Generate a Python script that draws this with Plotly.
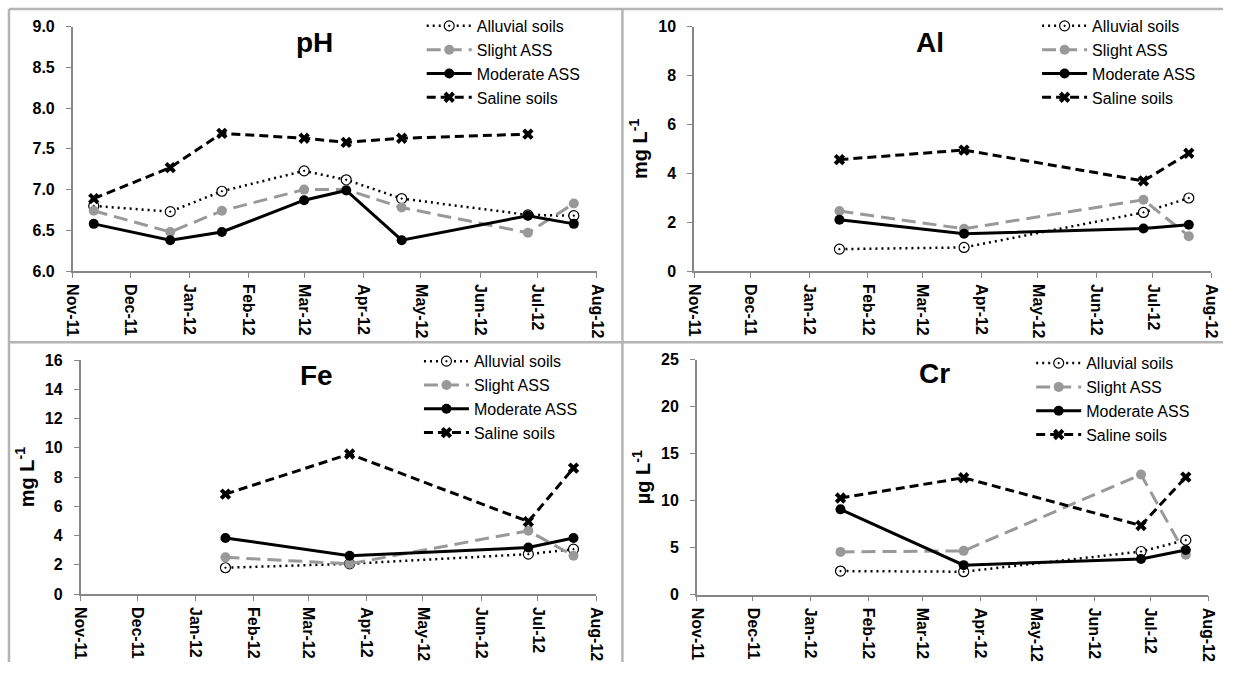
import plotly.graph_objects as go

# ---------------- data ----------------
series_names = ["Alluvial soils", "Slight ASS", "Moderate ASS", "Saline soils"]

ph_dates = ["2011-11-12", "2011-12-22", "2012-01-18", "2012-03-01",
            "2012-03-23", "2012-04-21", "2012-06-26", "2012-07-20"]
ph_alluvial = [6.80, 6.73, 6.98, 7.23, 7.12, 6.89, 6.69, 6.68]
ph_slight = [6.74, 6.48, 6.74, 7.00, 7.00, 6.78, 6.47, 6.83]
ph_moderate = [6.58, 6.38, 6.48, 6.87, 6.99, 6.38, 6.68, 6.58]
ph_saline = [6.89, 7.27, 7.69, 7.63, 7.58, 7.63, 7.68, None]

metal_dates = ["2012-01-17", "2012-03-23", "2012-06-26", "2012-07-20"]
al_alluvial = [0.90, 0.97, 2.40, 2.99]
al_slight = [2.46, 1.73, 2.92, 1.43]
al_moderate = [2.10, 1.53, 1.74, 1.90]
al_saline = [4.56, 4.95, 3.69, 4.82]

fe_alluvial = [1.80, 2.07, 2.73, 3.07]
fe_slight = [2.51, 2.07, 4.33, 2.62]
fe_moderate = [3.84, 2.62, 3.18, 3.84]
fe_saline = [6.84, 9.58, 4.96, 8.62]

cr_alluvial = [2.52, 2.45, 4.60, 5.81]
cr_slight = [4.56, 4.67, 12.79, 4.25]
cr_moderate = [9.09, 3.15, 3.80, 4.77]
cr_saline = [10.30, 12.45, 7.37, 12.52]

panel_titles = ["pH", "Al", "Fe", "Cr"]
y_titles = ["", "mg L<sup>-1</sup>", "mg L<sup>-1</sup>", "µg L<sup>-1</sup>"]

# ---------------- layout geometry ----------------
# the page keeps the browser's 8px body margin; figure + margins == 1248x687
OFF = 8
FW, FH = 1248 - 2 * OFF, 687 - 2 * OFF


def px_x(x):
    return min(max((x - OFF) / FW, 0.0), 1.0)


def px_y(y):
    return min(max(1 - (y - OFF) / FH, 0.0), 1.0)


FONT = "Liberation Sans, Arial, sans-serif"
styles = [
    dict(line=dict(color="black", width=2.5, dash="2px,4px"),
         marker=dict(symbol="circle-dot", size=10, color="white",
                     line=dict(color="black", width=1.2))),
    dict(line=dict(color="#999999", width=3, dash="14px,7px"),
         marker=dict(symbol="circle", size=10, color="#999999")),
    dict(line=dict(color="black", width=3),
         marker=dict(symbol="circle", size=10, color="black")),
    dict(line=dict(color="black", width=3, dash="9px,5px"),
         marker=dict(symbol="x", size=10, color="black")),
]

panels = [
    dict(dates=ph_dates, vals=[ph_alluvial, ph_slight, ph_moderate, ph_saline],
         yrange=[6, 9], dtick=0.5, fmt=".1f",
         px=(73.6, 605), py=(27, 278), title_xy=(318.5, 43), leg_xy=(427.5, 9)),
    dict(dates=metal_dates, vals=[al_alluvial, al_slight, al_moderate, al_saline],
         yrange=[0, 10], dtick=2, fmt="d",
         px=(703.6, 1228.3), py=(27, 278), title_xy=(942.5, 43), leg_xy=(1051.5, 9)),
    dict(dates=metal_dates, vals=[fe_alluvial, fe_slight, fe_moderate, fe_saline],
         yrange=[0, 16], dtick=2, fmt="d",
         px=(81.6, 604.3), py=(369.3, 609.3), title_xy=(320.5, 385), leg_xy=(424.7, 353)),
    dict(dates=metal_dates, vals=[cr_alluvial, cr_slight, cr_moderate, cr_saline],
         yrange=[0, 25], dtick=5, fmt="d",
         px=(706.4, 1225), py=(369, 610), title_xy=(947, 383), leg_xy=(1045.5, 355)),
]

fig = go.Figure()
layout = {}
annotations = []

tickfont = dict(family=FONT, size=16, color="black", weight="bold")

for i, p in enumerate(panels):
    n = i + 1
    suffix = "" if n == 1 else str(n)
    legname = "legend" if n == 1 else f"legend{n}"
    for k, name in enumerate(series_names):
        st = styles[k]
        fig.add_trace(go.Scatter(
            x=p["dates"], y=p["vals"][k], name=name, mode="lines+markers",
            line=st["line"], marker=st["marker"],
            xaxis="x" + suffix, yaxis="y" + suffix, legend=legname,
            connectgaps=False))
    layout["xaxis" + suffix] = dict(
        domain=[px_x(p["px"][0]), px_x(p["px"][1])],
        anchor="y" + suffix, type="date",
        range=["2011-11-01", "2012-08-01"], dtick="M1", tick0="2011-11-01",
        tickformat="%b-%y", tickangle=90,
        tickprefix="<b>", ticksuffix="</b>",
        ticks="outside", ticklen=5, tickcolor="#868686", tickwidth=1,
        ticklabelstandoff=3,
        showline=True, linecolor="#868686", linewidth=1.5,
        showgrid=False, zeroline=False,
        tickfont=tickfont,
    )
    layout["yaxis" + suffix] = dict(
        domain=[px_y(p["py"][1]), px_y(p["py"][0])],
        anchor="x" + suffix, range=p["yrange"], dtick=p["dtick"],
        tickformat=p["fmt"],
        tickprefix="<b>", ticksuffix="</b>",
        ticks="outside", ticklen=5, tickcolor="#868686", tickwidth=1,
        ticklabelstandoff=8,
        showline=True, linecolor="#868686", linewidth=1.5,
        showgrid=False, zeroline=False,
        tickfont=tickfont,
        title=dict(text="<b>%s</b>" % y_titles[i] if y_titles[i] else "",
                   standoff=5,
                   font=dict(family=FONT, size=20, color="black")),
    )
    layout[legname] = dict(
        x=px_x(p["leg_xy"][0]), y=px_y(p["leg_xy"][1]),
        xanchor="left", yanchor="top", bgcolor="rgba(0,0,0,0)",
        font=dict(family=FONT, size=16, color="black"),
        tracegroupgap=0, itemwidth=45,
    )
    annotations.append(dict(
        text="<b>%s</b>" % panel_titles[i], xref="paper", yref="paper",
        x=px_x(p["title_xy"][0]), y=px_y(p["title_xy"][1]),
        xanchor="center", yanchor="middle", showarrow=False,
        font=dict(family=FONT, size=28, color="black")))

# panel border lines (kept inside the figure)
border = dict(color="#b4b4b4", width=2.5)
shapes = []
for (x0, y0, x1, y1) in [(9, 9, 1248, 9),        # top edge
                          (9, 351, 1248, 351),    # middle horizontal divider
                          (9, 9, 9, 687),         # left edge
                          (631, 9, 631, 687)]:    # middle vertical divider
    shapes.append(dict(type="line", xref="paper", yref="paper",
                       x0=px_x(x0), x1=px_x(x1), y0=px_y(y0), y1=px_y(y1),
                       line=border, layer="below"))

fig.update_layout(
    width=FW, height=FH,
    margin=dict(l=0, r=0, t=0, b=0),
    paper_bgcolor="white", plot_bgcolor="white",
    showlegend=True,
    annotations=annotations, shapes=shapes,
    **layout,
)

fig.write_html("out.html")
